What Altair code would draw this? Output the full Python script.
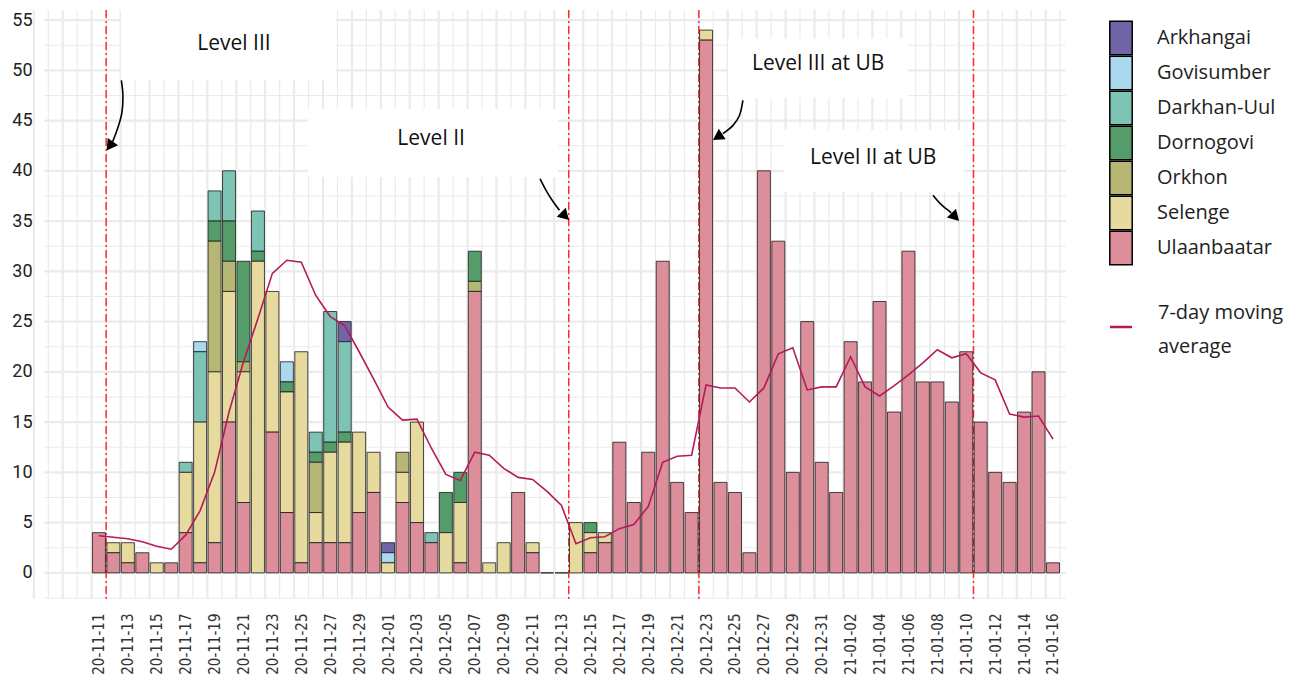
import altair as alt
import pandas as pd

# ---------------- data ----------------
dates = list(pd.date_range("2020-11-11", "2021-01-16").strftime("%y-%m-%d"))

regions = ["Arkhangai", "Govisumber", "Darkhan-Uul", "Dornogovi", "Orkhon", "Selenge", "Ulaanbaatar"]
colors = ["#7264A9", "#AAD9EF", "#7DC4B5", "#559C6B", "#B6B774", "#E7DA9E", "#DC8E9B"]
stack_order = ["Ulaanbaatar", "Selenge", "Orkhon", "Dornogovi", "Darkhan-Uul", "Govisumber", "Arkhangai"]

ulaanbaatar = [4, 2, 1, 2, 0, 1, 4, 1, 3, 15,
               7, 0, 14, 6, 1, 3, 3, 3, 6, 8,
               0, 7, 5, 3, 0, 1, 28, 0, 0, 8,
               2, 0, 0, 0, 2, 3, 13, 7, 12, 31,
               9, 6, 53, 9, 8, 2, 40, 33, 10, 25,
               11, 8, 23, 19, 27, 16, 32, 19, 19, 17,
               22, 15, 10, 9, 16, 20, 1]
selenge = [0, 1, 2, 0, 1, 0, 6, 14, 17, 13,
           13, 31, 14, 12, 21, 3, 9, 10, 8, 4,
           1, 3, 10, 0, 4, 6, 0, 1, 3, 0,
           1, 0, 0, 5, 2, 1, 0, 0, 0, 0,
           0, 0, 1, 0, 0, 0, 0, 0, 0, 0,
           0, 0, 0, 0, 0, 0, 0, 0, 0, 0,
           0, 0, 0, 0, 0, 0, 0]
orkhon = [0, 0, 0, 0, 0, 0, 0, 0, 13, 3,
          1, 0, 0, 0, 0, 5, 0, 0, 0, 0,
          0, 2, 0, 0, 0, 0, 1, 0, 0, 0,
          0, 0, 0, 0, 0, 0, 0, 0, 0, 0,
          0, 0, 0, 0, 0, 0, 0, 0, 0, 0,
          0, 0, 0, 0, 0, 0, 0, 0, 0, 0,
          0, 0, 0, 0, 0, 0, 0]
dornogovi = [0, 0, 0, 0, 0, 0, 0, 0, 2, 4,
             10, 1, 0, 1, 0, 1, 1, 1, 0, 0,
             0, 0, 0, 0, 4, 3, 3, 0, 0, 0,
             0, 0, 0, 0, 1, 0, 0, 0, 0, 0,
             0, 0, 0, 0, 0, 0, 0, 0, 0, 0,
             0, 0, 0, 0, 0, 0, 0, 0, 0, 0,
             0, 0, 0, 0, 0, 0, 0]
darkhan_uul = [0, 0, 0, 0, 0, 0, 1, 7, 3, 5,
               0, 4, 0, 0, 0, 2, 13, 9, 0, 0,
               0, 0, 0, 1, 0, 0, 0, 0, 0, 0,
               0, 0, 0, 0, 0, 0, 0, 0, 0, 0,
               0, 0, 0, 0, 0, 0, 0, 0, 0, 0,
               0, 0, 0, 0, 0, 0, 0, 0, 0, 0,
               0, 0, 0, 0, 0, 0, 0]
govisumber = [0, 0, 0, 0, 0, 0, 0, 1, 0, 0,
              0, 0, 0, 2, 0, 0, 0, 0, 0, 0,
              1, 0, 0, 0, 0, 0, 0, 0, 0, 0,
              0, 0, 0, 0, 0, 0, 0, 0, 0, 0,
              0, 0, 0, 0, 0, 0, 0, 0, 0, 0,
              0, 0, 0, 0, 0, 0, 0, 0, 0, 0,
              0, 0, 0, 0, 0, 0, 0]
arkhangai = [0, 0, 0, 0, 0, 0, 0, 0, 0, 0,
             0, 0, 0, 0, 0, 0, 0, 2, 0, 0,
             1, 0, 0, 0, 0, 0, 0, 0, 0, 0,
             0, 0, 0, 0, 0, 0, 0, 0, 0, 0,
             0, 0, 0, 0, 0, 0, 0, 0, 0, 0,
             0, 0, 0, 0, 0, 0, 0, 0, 0, 0,
             0, 0, 0, 0, 0, 0, 0]

moving_avg = [3.7, 3.55, 3.4, 3.1, 2.65, 2.35, 3.75, 6.2, 10.0, 16.0,
              21.0, 25.3, 29.8, 31.1, 30.9, 27.6, 25.5, 24.6, 22.0, 19.3,
              16.5, 15.2, 15.3, 12.4, 9.8, 9.2, 12.0, 11.7, 10.4, 9.5,
              9.3, 8.1, 6.7, 2.9, 3.5, 3.6, 4.4, 4.8, 6.6, 11.0,
              11.6, 11.7, 18.7, 18.4, 18.4, 17.0, 18.4, 21.8, 22.4, 18.2,
              18.5, 18.5, 21.5, 18.5, 17.6, 18.6, 19.7, 20.9, 22.2, 21.4,
              21.8, 19.9, 19.2, 15.8, 15.5, 15.6, 13.3]

series = {"Arkhangai": arkhangai, "Govisumber": govisumber, "Darkhan-Uul": darkhan_uul,
          "Dornogovi": dornogovi, "Orkhon": orkhon, "Selenge": selenge, "Ulaanbaatar": ulaanbaatar}

# restriction-level change dates (drawn between two days)
level_dates = ["20-11-11", "20-12-13", "20-12-22", "21-01-10"]

ann_labels = ["Level III", "Level II", "Level III at UB", "Level II at UB"]
ann_text_x = [9.34, 22.98, 49.76, 53.56]
ann_text_y = [52.6, 43.16, 50.62, 41.27]
box_x0 = [1.52, 14.46, 43.53, 47.4]
box_x1 = [16.40, 31.76, 55.99, 59.86]
box_y0 = [49.0, 39.38, 47.24, 37.9]
box_y1 = [56.0, 46.15, 53.2, 44.06]

arrow_paths = {
    0: [(1.55, 49.0), (1.66, 47.5), (1.59, 45.8), (1.29, 44.2), (0.95, 42.9)],
    1: [(30.52, 39.2), (30.93, 38.06), (31.40, 36.97), (31.86, 36.07)],
    2: [(44.55, 47.0), (44.31, 45.5), (43.85, 44.5), (43.16, 43.7)],
    3: [(57.7, 37.56), (58.13, 36.83), (58.6, 36.23), (58.96, 35.83)],
}
head_x = [0.75, 32.25, 42.8, 59.24]
head_y = [42.47, 35.5, 43.36, 35.4]
head_angle = [215, 135, 237, 136]

legend_line_text = "7-day moving\naverage"

# ---------------- tables ----------------
rows = []
for r in regions:
    for i, v in enumerate(series[r]):
        if v > 0:
            rows.append({"idx": i, "date": dates[i], "region": r, "cases": v,
                         "order": stack_order.index(r)})
for i in range(len(dates)):
    if sum(series[r][i] for r in regions) == 0:
        rows.append({"idx": i, "date": dates[i], "region": "Ulaanbaatar", "cases": 0, "order": 0})
bars_df = pd.DataFrame(rows)

ma_df = pd.DataFrame({"idx": list(range(len(dates))), "date": dates, "ma": moving_avg})
level_df = pd.DataFrame({"pos": [dates.index(d) + 0.5 for d in level_dates]})
box_df = pd.DataFrame({"x0": box_x0, "x1": box_x1, "y0": box_y0, "y1": box_y1})
txt_df = pd.DataFrame({"label": ann_labels, "x": ann_text_x, "y": ann_text_y})
arr_rows = []
for k, pts in arrow_paths.items():
    for j, (ax, ay) in enumerate(pts):
        arr_rows.append({"arrow": k, "seq": j, "x": ax, "y": ay})
arr_df = pd.DataFrame(arr_rows)
head_df = pd.DataFrame({"x": head_x, "y": head_y, "ang": head_angle})

n = len(dates)
vgrid_major = pd.DataFrame({"p": [k + 0.5 for k in range(-5, n) if k % 2 != 0]})
vgrid_minor = pd.DataFrame({"p": [k + 0.5 for k in range(-4, n) if k % 2 == 0]})
hgrid_major = pd.DataFrame({"v": list(range(0, 56, 5))})
hgrid_minor = pd.DataFrame({"v": [v + 2.5 for v in range(-5, 55, 5)]})

# ---------------- scales / axes ----------------
X = alt.Scale(domain=[-3.8, 66.9], nice=False, zero=False)
Y = alt.Scale(domain=[-2.6, 56.0], nice=False, zero=False)

label_expr = "[" + ",".join("'%s'" % d for d in dates) + "][datum.value]"
x_axis = alt.Axis(values=list(range(0, n, 2)), labelExpr=label_expr, title=None,
                  labelAngle=270, labelAlign="right", labelBaseline="middle",
                  labelFont="DejaVu Sans Condensed, DejaVu Sans, sans-serif", labelFontSize=15,
                  labelColor="#333333", labelPadding=14, ticks=False, domain=False,
                  grid=False, labelOverlap=False)
y_axis = alt.Axis(values=list(range(0, 56, 5)), title=None, labelFont="Roboto",
                  labelFontSize=18, labelColor="#222222", labelPadding=12,
                  ticks=False, domain=False, grid=False)


def xe(field):
    return alt.X(field, scale=X, axis=x_axis)


def ye(field):
    return alt.Y(field, scale=Y, axis=y_axis)


GRID = "#EBEBEB"
g1 = alt.Chart(hgrid_minor).mark_rule(color=GRID, strokeWidth=1.1).encode(y=ye("v:Q"))
g2 = alt.Chart(hgrid_major).mark_rule(color=GRID, strokeWidth=2.2).encode(y=ye("v:Q"))
g3 = alt.Chart(vgrid_minor).mark_rule(color=GRID, strokeWidth=1.2).encode(x=xe("p:Q"))
g4 = alt.Chart(vgrid_major).mark_rule(color=GRID, strokeWidth=2.2).encode(x=xe("p:Q"))

levels = alt.Chart(level_df).mark_rule(color="#FF2B2B", strokeWidth=1.5,
                                       strokeDash=[8, 3, 2, 3]).encode(x=xe("pos:Q"))

boxes = alt.Chart(box_df).mark_rect(fill="white").encode(
    x=xe("x0:Q"), x2="x1:Q", y=ye("y0:Q"), y2="y1:Q")

bars = alt.Chart(bars_df).transform_stack(
    stack="cases", groupby=["idx"], as_=["s0", "s1"],
    sort=[alt.SortField("order", order="ascending")]
).transform_calculate(
    b0="datum.idx - 0.45", b1="datum.idx + 0.45"
).mark_rect(stroke="#1a1a1a", strokeWidth=1, strokeOpacity=0.8).encode(
    x=xe("b0:Q"), x2="b1:Q", y=ye("s0:Q"), y2="s1:Q",
    fill=alt.Fill("region:N", scale=alt.Scale(domain=regions, range=colors),
                  legend=alt.Legend(orient="none", legendX=1062, legendY=13, title=None,
                                    symbolType="M-0.8,-1.2H0.8V1.2H-0.8Z", symbolSize=784,
                                    symbolStrokeColor="black", symbolStrokeWidth=1.5,
                                    symbolOpacity=1, labelFont="Open Sans", labelFontSize=20,
                                    labelColor="#222222", labelOffset=21, rowPadding=-7,
                                    padding=0, labelLimit=300)),
    tooltip=["date:N", "region:N", "cases:Q"])

line = alt.Chart(ma_df).mark_line(color="#B51A5A", strokeWidth=1.6).encode(
    x=xe("idx:Q"), y=ye("ma:Q"))

arrows = alt.Chart(arr_df).mark_line(color="black", strokeWidth=1.6, interpolate="cardinal").encode(
    x=xe("x:Q"), y=ye("y:Q"), detail="arrow:N", order="seq:Q")
heads = alt.Chart(head_df).mark_point(shape="triangle-up", filled=True, color="black",
                                      size=160, opacity=1).encode(
    x=xe("x:Q"), y=ye("y:Q"), angle=alt.Angle("ang:Q", scale=None))

texts = alt.Chart(txt_df).mark_text(font="Open Sans", fontSize=21, color="#111111").encode(
    x=xe("x:Q"), y=ye("y:Q"), text="label:N")

one = pd.DataFrame({"k": [0]})
leg_line = alt.Chart(one).mark_rule(color="#B51A5A", strokeWidth=2.5).encode(
    x=alt.value(1066), x2=alt.value(1088), y=alt.value(317))
leg_text = alt.Chart(one).mark_text(font="Open Sans", fontSize=20, color="#222222",
                                    align="left", baseline="middle", lineBreak="\n",
                                    lineHeight=34).encode(
    x=alt.value(1114), y=alt.value(303), text=alt.value(legend_line_text))

chart = alt.layer(g1, g2, g3, g4, levels, boxes, bars, line, arrows, heads, texts,
                  leg_line, leg_text).properties(
    width=1022, height=589,
    padding={"left": 3, "top": 0, "right": 0, "bottom": 0},
    background="white",
).configure_view(stroke=None)

chart.save("out.html", embed_options={"renderer": "svg", "actions": False})
